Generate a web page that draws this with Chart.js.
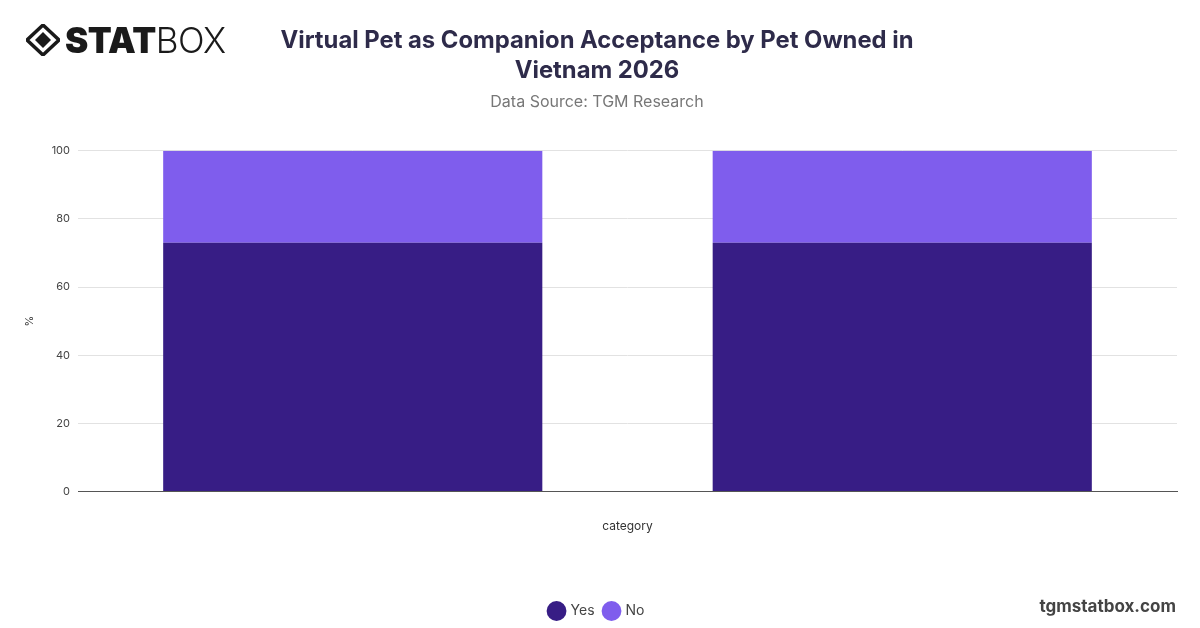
<!DOCTYPE html>
<html>
<head>
<meta charset="utf-8">
<script src="https://cdn.jsdelivr.net/npm/chart.js@4.4.1/dist/chart.umd.min.js"></script>
<style>
  html, body { margin: 0; padding: 0; background: #fff; }
  #wrap { position: relative; width: 1200px; height: 628px; overflow: hidden; }
  #chart { position: absolute; left: 0; top: 0; }
  .logo { position: absolute; left: 26px; top: 22px; height: 36px; display: flex; align-items: center; }
  .logo span { font-family: "Inter", "DejaVu Sans", sans-serif; font-size: 35px; line-height: 36px; color: #1a1a1a; letter-spacing: -0.5px; }
  .logo .stat { font-weight: 900; margin-left: 5px; }
  .logo .box { font-weight: 300; }
  .watermark { position: absolute; right: 24px; top: 596px; font-family: "Inter", "Liberation Sans", sans-serif; font-weight: 700; font-size: 17px; color: #444; }
</style>
</head>
<body>
<div id="wrap">
  <canvas id="chart" width="1200" height="628"></canvas>
  <div class="logo">
    <svg width="34" height="32" viewBox="0 0 34 32">
      <polygon points="17,1 33,16 17,31 1,16" fill="none" stroke="#1a1a1a" stroke-width="3.5"/>
      <polygon points="17,8 25,16 17,24 9,16" fill="#1a1a1a"/>
    </svg>
    <span class="stat">STAT</span><span class="box">BOX</span>
  </div>
  <div class="watermark">tgmstatbox.com</div>
</div>
<script>
// values
const categories = ['', ''];
const yesValues = [73, 73];
const noValues = [27, 27];
const yTicks = [0, 20, 40, 60, 80, 100];

const ctx = document.getElementById('chart').getContext('2d');
const chart = new Chart(ctx, {
  type: 'bar',
  data: {
    labels: categories,
    datasets: [
      { label: 'Yes', data: yesValues, backgroundColor: '#371d85', borderWidth: 0 },
      { label: 'No', data: noValues, backgroundColor: '#7f5ded', borderWidth: 0 }
    ]
  },
  options: {
    responsive: false,
    animation: false,
    devicePixelRatio: 1,
    barPercentage: 0.69,
    categoryPercentage: 1,
    layout: { padding: { left: 17, right: 23, top: 26, bottom: 0 } },
    scales: {
      x: {
        stacked: true,
        grid: { display: false },
        border: { display: true, color: '#555', width: 1 },
        ticks: { display: false },
        title: {
          display: true, text: 'category', color: '#333',
          font: { family: 'Inter', size: 12 },
          padding: { top: 20, bottom: 60 }
        }
      },
      y: {
        stacked: true,
        min: 0, max: 100,
        afterBuildTicks: function(axis) { axis.ticks = yTicks.map(v => ({ value: v })); },
        afterFit: function(axis) { axis.width = 61; },
        grid: { color: '#e2e2e2', drawTicks: false },
        border: { display: false },
        ticks: { color: '#444', font: { family: 'Inter', size: 11 }, padding: 8 },
        title: { display: true, text: '%', color: '#333', font: { family: 'Inter', size: 11 }, padding: { top: 6, bottom: 0 } }
      }
    },
    plugins: {
      title: {
        display: true,
        text: ['Virtual Pet as Companion Acceptance by Pet Owned in', 'Vietnam 2026'],
        color: '#2e2b4a',
        font: { family: 'Inter', size: 23.8, weight: 'bold', lineHeight: 1.25 },
        padding: { top: 0, bottom: 6 }
      },
      subtitle: {
        display: true,
        text: 'Data Source: TGM Research',
        color: '#777',
        font: { family: 'Inter', size: 16 },
        padding: { top: 1, bottom: 39 }
      },
      legend: {
        position: 'bottom',
        labels: {
          usePointStyle: true, pointStyle: 'circle', boxWidth: 14, boxHeight: 14,
          color: '#444', font: { family: 'Inter', size: 14 }, padding: 10
        }
      },
      tooltip: { enabled: false }
    }
  }
});
</script>
</body>
</html>
